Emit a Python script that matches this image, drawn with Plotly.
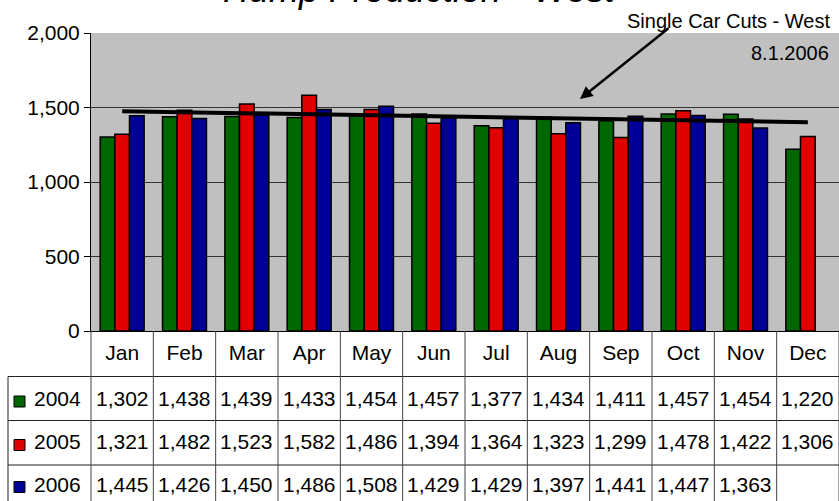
import plotly.graph_objects as go

months = ["Jan", "Feb", "Mar", "Apr", "May", "Jun", "Jul", "Aug", "Sep", "Oct", "Nov", "Dec"]
years = ["2004", "2005", "2006"]
y2004 = [1302, 1438, 1439, 1433, 1454, 1457, 1377, 1434, 1411, 1457, 1454, 1220]
y2005 = [1321, 1482, 1523, 1582, 1486, 1394, 1364, 1323, 1299, 1478, 1422, 1306]
y2006 = [1445, 1426, 1450, 1486, 1508, 1429, 1429, 1397, 1441, 1447, 1363, None]
trend_x = ["Jan", "Dec"]
trend_y = [1475, 1401]
colors = ["#006600", "#E00000", "#000099"]

W, H = 839, 501
L, T, B = 91, 33, 170
PW, PH = W - L, H - T - B
FONT = "Liberation Sans, Arial, sans-serif"


# pixel -> paper helpers
def px(x):
    return (x - L) / PW


def py(y):
    return (H - B - y) / PH


fig = go.Figure()
for name, vals, col in zip(years, [y2004, y2005, y2006], colors):
    fig.add_trace(go.Bar(x=months, y=vals, name=name, marker_color=col,
                         marker_line=dict(color="black", width=1.5)))

fig.add_trace(go.Scatter(x=trend_x, y=trend_y, mode="lines",
                         line=dict(color="black", width=4), showlegend=False))

shapes = []
row_lines = [376.5, 420.5, 465]
for y in row_lines:
    shapes.append(dict(type="line", xref="paper", yref="paper", x0=px(8), x1=1,
                       y0=py(y), y1=py(y), line=dict(color="#222", width=1)))
for i in range(13):
    shapes.append(dict(type="line", xref="paper", yref="paper", x0=i / 12, x1=i / 12,
                       y0=0, y1=py(505), line=dict(color="#444", width=1)))
shapes.append(dict(type="line", xref="paper", yref="paper", x0=px(8), x1=px(8),
                   y0=py(376.5), y1=py(505), line=dict(color="#222", width=1)))

annotations = []
row_centers = [398, 441.5, 484.5]
square_centers = [401.5, 445, 487]
for name, vals, col, yc, sc in zip(years, [y2004, y2005, y2006], colors, row_centers, square_centers):
    shapes.append(dict(type="rect", xref="paper", yref="paper",
                       x0=px(14), x1=px(25), y0=py(sc - 5.5), y1=py(sc + 5.5),
                       fillcolor=col, line=dict(color="black", width=1)))
    annotations.append(dict(text=name, xref="paper", yref="paper", x=px(57.5), y=py(yc),
                            showarrow=False, xanchor="center", yanchor="middle",
                            font=dict(size=21)))
    for m, v in zip(months, vals):
        if v is None:
            continue
        annotations.append(dict(text=f"{v:,}", xref="x", yref="paper", x=m, y=py(yc),
                                showarrow=False, xanchor="center", yanchor="middle",
                                font=dict(size=21)))

# title (partly cut off at the top)
annotations.append(dict(text="<i>Hump Production - West</i>", xref="paper", yref="paper",
                        x=px(419), y=py(-10.5), showarrow=False, xanchor="center",
                        yanchor="middle", font=dict(size=36)))
annotations.append(dict(text="Single Car Cuts - West", xref="paper", yref="paper",
                        x=px(832), y=py(21), showarrow=False, xanchor="right",
                        yanchor="middle", font=dict(size=20)))
annotations.append(dict(text="8.1.2006", xref="paper", yref="paper",
                        x=px(831), y=py(53), showarrow=False, xanchor="right",
                        yanchor="middle", font=dict(size=20)))
annotations.append(dict(text="", xref="paper", yref="paper", x=px(580), y=py(99),
                        ax=90, ay=-72, showarrow=True, arrowhead=2, arrowsize=1,
                        arrowwidth=2.5, arrowcolor="black"))

fig.update_layout(
    width=W, height=H,
    margin=dict(l=L, r=0, t=T, b=B),
    barmode="group", bargap=0.295, bargroupgap=0,
    plot_bgcolor="#C0C0C0", paper_bgcolor="white",
    font=dict(family=FONT, size=21, color="black"),
    showlegend=False,
    shapes=shapes,
    annotations=annotations,
)
fig.update_xaxes(type="category", showline=True, linecolor="black", linewidth=1,
                 ticks="", ticklabelstandoff=3, tickfont=dict(size=21), showgrid=False)
fig.update_yaxes(range=[0, 2000], dtick=500, tickformat=",", showline=True,
                 linecolor="black", linewidth=1, ticks="outside", ticklen=6,
                 tickcolor="black", gridcolor="#333", gridwidth=1, zeroline=False,
                 tickfont=dict(size=21))

fig.write_html("out.html", config={"displayModeBar": False},
               post_script="document.body.style.margin='0';document.body.style.overflow='hidden';")
